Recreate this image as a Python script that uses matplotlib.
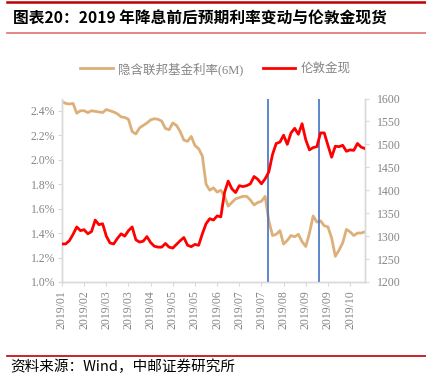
import matplotlib
matplotlib.use('Agg')
import matplotlib.pyplot as plt
from matplotlib.lines import Line2D

# 隐含联邦基金利率(6M), %
fed_rate = [2.475, 2.46, 2.455, 2.46, 2.38, 2.40, 2.40, 2.385, 2.40, 2.395,
            2.39, 2.385, 2.41, 2.40, 2.39, 2.375, 2.35, 2.345, 2.33, 2.23,
            2.21, 2.26, 2.28, 2.30, 2.325, 2.335, 2.33, 2.315, 2.255, 2.245,
            2.30, 2.28, 2.23, 2.16, 2.15, 2.19, 2.115, 2.09, 2.03, 1.80,
            1.75, 1.77, 1.735, 1.75, 1.70, 1.62, 1.65, 1.68, 1.69, 1.70,
            1.70, 1.67, 1.63, 1.65, 1.66, 1.70, 1.50, 1.38, 1.39, 1.42,
            1.31, 1.34, 1.38, 1.37, 1.39, 1.33, 1.29, 1.40, 1.54, 1.49,
            1.50, 1.46, 1.45, 1.36, 1.21, 1.26, 1.32, 1.43, 1.41, 1.38,
            1.40, 1.40, 1.41]

# 伦敦金现
gold = [1283, 1283, 1290, 1304, 1320, 1312, 1314, 1305, 1310, 1335,
        1325, 1327, 1300, 1285, 1283, 1295, 1305, 1300, 1312, 1320,
        1292, 1287, 1289, 1299, 1286, 1278, 1276, 1276, 1284, 1276,
        1274, 1282, 1290, 1297, 1280, 1277, 1282, 1280, 1305, 1327,
        1338, 1335, 1344, 1342, 1395, 1420, 1403, 1395, 1410, 1408,
        1410, 1414, 1430, 1424, 1414, 1425, 1440, 1478, 1502, 1505,
        1520, 1500, 1525, 1535, 1522, 1545, 1510, 1488, 1493, 1495,
        1525, 1525, 1498, 1472, 1496, 1495, 1498, 1485, 1488, 1487,
        1502, 1494, 1491]

tick_labels = ['2019/01', '2019/02', '2019/03', '2019/03', '2019/04', '2019/05',
               '2019/05', '2019/06', '2019/07', '2019/07', '2019/08', '2019/09',
               '2019/09', '2019/10']
tick_step = 6
cut_days = [55.9, 69.7]   # 降息日位置

x = list(range(len(gold)))
tan = '#DDB079'
grey = '#858585'
spine_c = '#D9D9D9'
serif = ['Liberation Serif', 'Noto Sans CJK SC']

fig = plt.figure(figsize=(4.26, 3.75), dpi=100)
ax = fig.add_axes([0.1455, 0.248, 0.711, 0.4893])
ax2 = ax.twinx()

ax.plot(x, fed_rate, color=tan, lw=2.0, zorder=2)
for d in cut_days:
    ax2.axvline(d, color='#4472C4', lw=1.2, zorder=1)
ax2.plot(x, gold, color='#FF0000', lw=2.0, zorder=3)

ax.set_xlim(0, len(gold) - 1)
ax.set_ylim(1.0, 2.5)
ax.set_yticks([1.0, 1.2, 1.4, 1.6, 1.8, 2.0, 2.2, 2.4])
ax.set_yticklabels([f'{v:.1f}%' for v in ax.get_yticks()])
ax2.set_ylim(1200, 1600)
ax2.set_yticks(range(1200, 1601, 50))

ax.set_xticks(range(0, tick_step * len(tick_labels), tick_step))
ax.set_xticklabels(tick_labels, rotation=90)

for a in (ax, ax2):
    a.tick_params(colors=spine_c, labelcolor=grey, length=3, width=0.8,
                  labelsize=8.5)
    for lab in a.get_xticklabels() + a.get_yticklabels():
        lab.set_family(serif)
    a.spines['top'].set_visible(False)
    for s in ('left', 'right', 'bottom'):
        a.spines[s].set_color(spine_c)
        a.spines[s].set_linewidth(1.0)
ax.tick_params(axis='y', pad=2)
ax2.tick_params(axis='y', pad=6)
ax.tick_params(axis='x', pad=3)

handles = [Line2D([], [], color=tan, lw=2.0), Line2D([], [], color='#FF0000', lw=2.0)]
fig.legend(handles, ['隐含联邦基金利率(6M)', '伦敦金现'], loc='center',
           bbox_to_anchor=(0.505, 0.816), ncol=2, frameon=False,
           handlelength=2.6, handletextpad=0.4, columnspacing=1.6,
           prop={'family': serif, 'size': 9}, labelcolor=grey)

# 标题与来源
fig.add_artist(Line2D([0.016, 1.0], [0.994, 0.994], color='#C00000', lw=1.8))
fig.text(0.03, 0.949, '图表20：2019 年降息前后预期利率变动与伦敦金现货',
         fontsize=11.3, fontweight='bold', family='Noto Sans CJK SC',
         va='center', ha='left')
fig.add_artist(Line2D([0.016, 1.0], [0.912, 0.912], color='#E07070', lw=1.2))
fig.add_artist(Line2D([0.016, 1.0], [0.051, 0.051], color='#C00000', lw=1.2))
fig.text(0.025, 0.022, '资料来源：Wind，中邮证券研究所', fontsize=10.5,
         family='Noto Sans CJK SC', va='center', ha='left')

fig.savefig('out.png', dpi=100)
